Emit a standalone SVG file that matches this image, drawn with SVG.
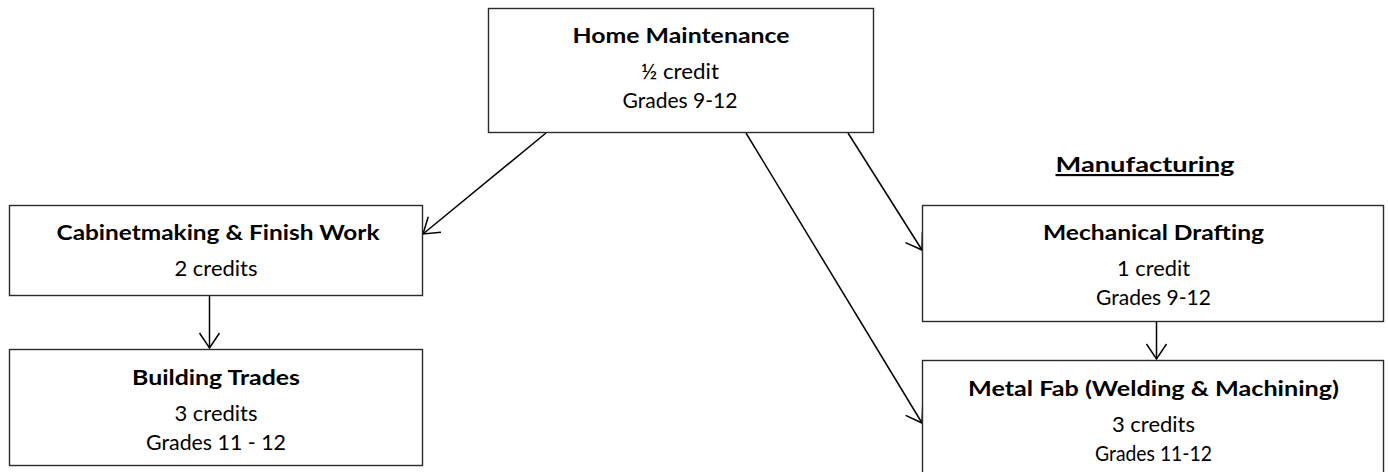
<svg xmlns="http://www.w3.org/2000/svg" width="1388" height="472" viewBox="0 0 1388 472">
<defs>
<style>
.box{fill:#fff;stroke:#2b2b2b;stroke-width:1.4}
.t{font-family:Lato,"Open Sans","Liberation Sans",sans-serif;font-size:21px;fill:#000;text-anchor:middle}
.b{font-weight:bold;font-size:21.5px}
.con{stroke:#000;stroke-width:1.5;fill:none;marker-end:url(#ah)}
</style>
<marker id="ah" markerUnits="userSpaceOnUse" markerWidth="20" markerHeight="26" viewBox="-17 -13 20 26" refX="0" refY="0" orient="auto">
<path d="M-15,-10 L0,0 L-15,10" fill="none" stroke="#000" stroke-width="1.5"/>
</marker>
</defs>
<rect width="1388" height="472" fill="#fff"/>
<g id="connectors">
<line class="con" x1="546" y1="133" x2="423" y2="234"/>
<line class="con" x1="848" y1="133" x2="922" y2="250"/>
<line class="con" x1="746" y1="133" x2="922" y2="423"/>
<line class="con" x1="209.5" y1="296" x2="209.5" y2="348"/>
<line class="con" x1="1156.5" y1="322" x2="1156.5" y2="359"/>
</g>
<g id="home-maintenance">
<rect class="box" x="488.5" y="8.5" width="385" height="124"/>
<text class="t b" x="681" y="43" textLength="217" lengthAdjust="spacingAndGlyphs">Home Maintenance</text>
<text class="t" x="680" y="79" textLength="78" lengthAdjust="spacingAndGlyphs">½ credit</text>
<text class="t" x="680" y="108" textLength="115" lengthAdjust="spacingAndGlyphs">Grades 9-12</text>
</g>
<g id="cabinetmaking">
<rect class="box" x="9.5" y="205.5" width="413" height="90"/>
<text class="t b" x="218" y="240" textLength="323" lengthAdjust="spacingAndGlyphs">Cabinetmaking &amp; Finish Work</text>
<text class="t" x="216" y="276" textLength="83" lengthAdjust="spacingAndGlyphs">2 credits</text>
</g>
<g id="building-trades">
<rect class="box" x="9.5" y="349.5" width="413" height="116"/>
<text class="t b" x="216" y="385" textLength="168" lengthAdjust="spacingAndGlyphs">Building Trades</text>
<text class="t" x="216" y="421" textLength="83" lengthAdjust="spacingAndGlyphs">3 credits</text>
<text class="t" x="216" y="450" textLength="140" lengthAdjust="spacingAndGlyphs">Grades 11 - 12</text>
</g>
<g id="manufacturing-label">
<text class="t b" x="1145" y="172" text-decoration="underline" textLength="179" lengthAdjust="spacingAndGlyphs">Manufacturing</text>
</g>
<g id="mechanical-drafting">
<rect class="box" x="922.5" y="205.5" width="461" height="116"/>
<text class="t b" x="1153.5" y="240" textLength="221" lengthAdjust="spacingAndGlyphs">Mechanical Drafting</text>
<text class="t" x="1153.5" y="276" textLength="73" lengthAdjust="spacingAndGlyphs">1 credit</text>
<text class="t" x="1153.5" y="305" textLength="115" lengthAdjust="spacingAndGlyphs">Grades 9-12</text>
</g>
<g id="metal-fab">
<rect class="box" x="922.5" y="360.5" width="461" height="120"/>
<text class="t b" x="1153.5" y="396" textLength="371" lengthAdjust="spacingAndGlyphs">Metal Fab (Welding &amp; Machining)</text>
<text class="t" x="1153.5" y="432" textLength="83" lengthAdjust="spacingAndGlyphs">3 credits</text>
<text class="t" x="1153.5" y="461" textLength="117" lengthAdjust="spacingAndGlyphs">Grades 11-12</text>
</g>
</svg>
